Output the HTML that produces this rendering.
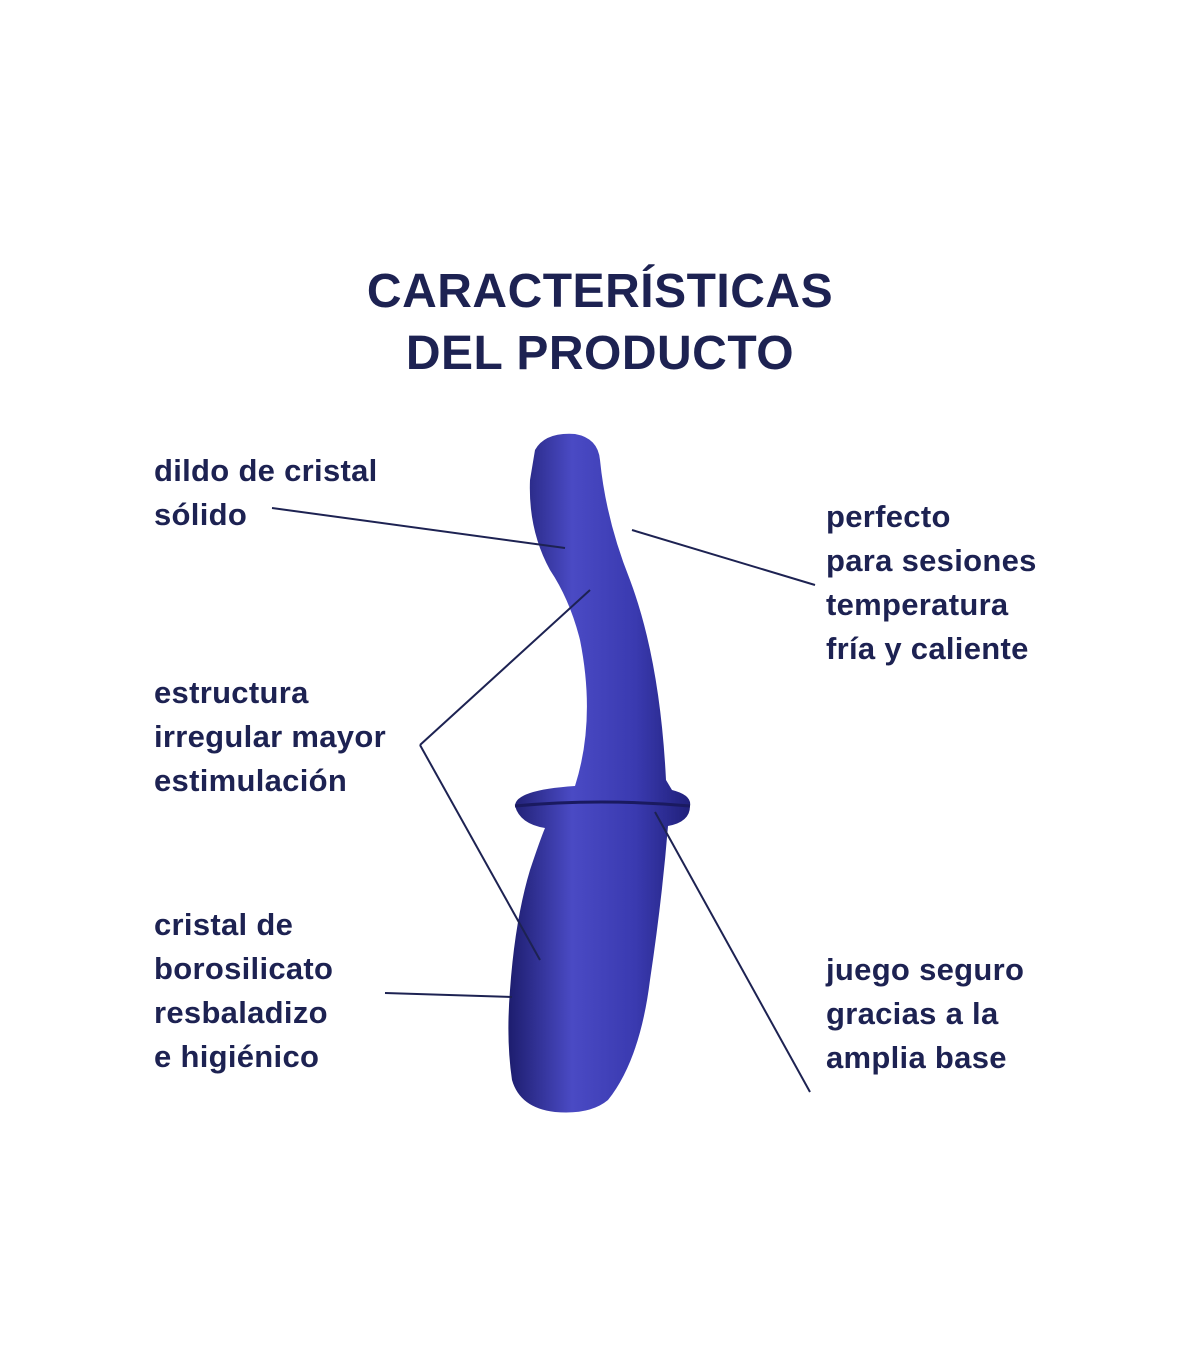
<!DOCTYPE html>
<html><head><meta charset="utf-8"><style>
html,body{margin:0;padding:0;background:#fff}
body{width:1200px;height:1372px;position:relative;overflow:hidden;font-family:"Liberation Sans",sans-serif;color:#1d2252}
.t{position:absolute;left:0;width:1200px;text-align:center;font-weight:bold;font-size:48px;letter-spacing:0.5px}
.l{position:absolute;font-size:31px;font-weight:bold;line-height:44px;white-space:nowrap;letter-spacing:0.3px}
</style></head><body>
<div class="t" style="top:264px">CARACTERÍSTICAS</div>
<div class="t" style="top:326px">DEL PRODUCTO</div>
<svg width="1200" height="1372" style="position:absolute;left:0;top:0">
<defs><linearGradient id="g" x1="0" x2="1"><stop offset="0" stop-color="#1d1d6e"/><stop offset=".35" stop-color="#4a4ac4"/><stop offset=".7" stop-color="#3a3ab0"/><stop offset="1" stop-color="#20207a"/></linearGradient></defs>
<path d="M535 450 Q545 432 575 434 Q598 438 600 460 Q606 520 630 580 Q660 660 666 780 L672 790 Q692 795 690 806 Q690 822 668 826 Q662 900 650 980 Q640 1060 608 1100 Q590 1115 555 1112 Q520 1108 512 1080 Q506 1040 510 990 Q515 920 530 870 Q540 840 545 828 Q520 824 515 806 Q515 790 575 786 Q596 720 580 640 Q570 600 550 570 Q528 530 530 480 Z" fill="url(#g)"/>
<path d="M515 806 Q600 798 690 806" stroke="#1a1a60" stroke-width="3" fill="none"/>
<g stroke="#1d2252" stroke-width="2" fill="none">
<line x1="272" y1="508" x2="565" y2="548"/>
<line x1="632" y1="530" x2="815" y2="585"/>
<line x1="420" y1="745" x2="590" y2="590"/>
<line x1="420" y1="745" x2="540" y2="960"/>
<line x1="385" y1="993" x2="512" y2="997"/>
<line x1="655" y1="812" x2="810" y2="1092"/>
</g></svg>
<div class="l" style="left:154px;top:449px">dildo de cristal<br>sólido</div>
<div class="l" style="left:154px;top:671px">estructura<br>irregular mayor<br>estimulación</div>
<div class="l" style="left:154px;top:903px">cristal de<br>borosilicato<br>resbaladizo<br>e higiénico</div>
<div class="l" style="left:826px;top:495px">perfecto<br>para sesiones<br>temperatura<br>fría y caliente</div>
<div class="l" style="left:826px;top:948px">juego seguro<br>gracias a la<br>amplia base</div>
</body></html>
